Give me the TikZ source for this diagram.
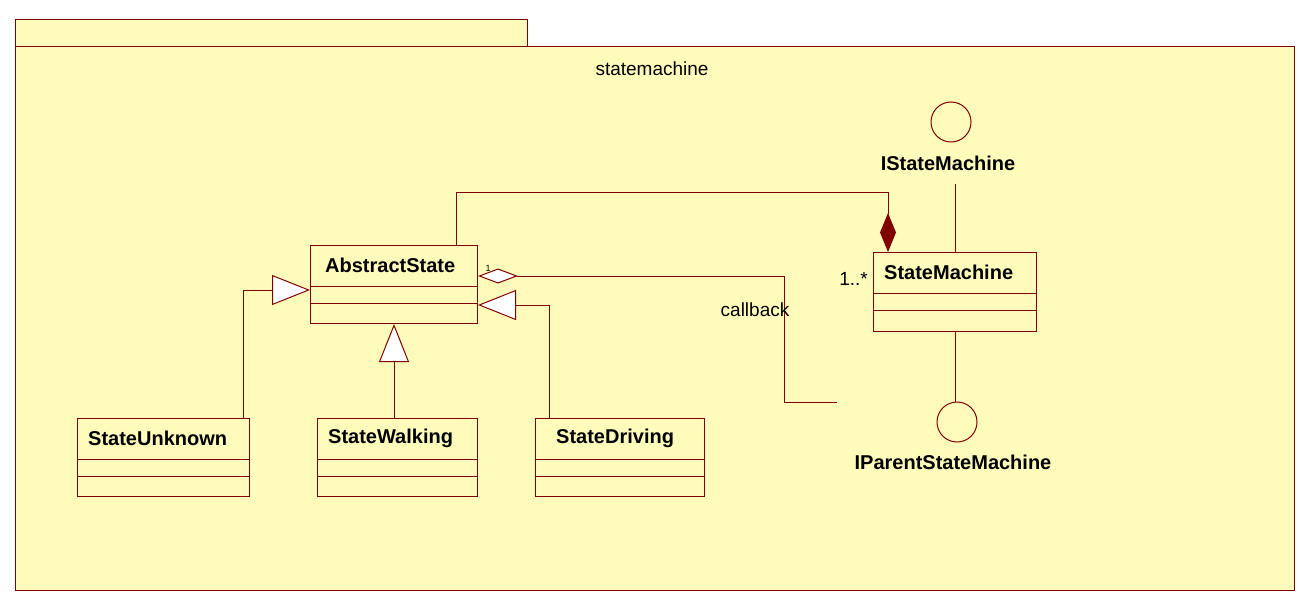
\documentclass[tikz,border=0pt]{standalone}
\usepackage{fontspec}
\setmainfont{Liberation Sans}
\usepackage{tikz}
\usetikzlibrary{arrows.meta,shapes,positioning}
\usepackage{xcolor}
\definecolor{umlyellow}{RGB}{255,252,187}
\definecolor{umlred}{RGB}{128,0,0}
\tikzstyle{umlline} = [draw=umlred, line width=1pt]
\tikzstyle{package} = [rectangle, draw=umlred, fill=umlyellow, line width=1pt, inner sep=0pt, anchor=north west]
\tikzstyle{classbox} = [rectangle, draw=umlred, fill=umlyellow, line width=1pt, inner sep=0pt, minimum height=78pt, anchor=north west]
\tikzstyle{classname} = [font=\fontsize{20}{24}\selectfont\bfseries, anchor=west, inner sep=0pt]
\tikzstyle{iface} = [circle, draw=umlred, line width=1pt, minimum size=40pt, inner sep=0pt]
\tikzstyle{ifacename} = [font=\fontsize{20}{24}\selectfont\bfseries, inner sep=0pt]
\tikzstyle{plain} = [font=\fontsize{19}{23}\selectfont, inner sep=0pt]
\tikzstyle{inherit} = [umlline, -{Triangle[length=38pt, width=30pt, fill=white]}]
\tikzstyle{compose} = [umlline, -{Diamond[length=39pt, width=16pt, fill=umlred]}]
\tikzstyle{aggregate} = [umlline, {Diamond[length=40pt, width=15pt, fill=white]}-]

\begin{document}
\begin{tikzpicture}[x=1pt, y=-1pt]
\useasboundingbox (0,0) rectangle (1306,604);
% Package
\node[package, minimum width=512pt, minimum height=27pt] (tab) at (15,19) {};
\node[package, minimum width=1279pt, minimum height=544pt] (pkg) at (15,46) {};
\node[plain] (pkgname) at (652,69) {statemachine};

% Classes
\node[classbox, minimum width=167pt] (abstract) at (310,245) {};
\node[classbox, minimum width=163pt, minimum height=79pt] (machine) at (873,252) {};
\node[classbox, minimum width=172pt] (unknown) at (77,418) {};
\node[classbox, minimum width=160pt, right=67pt of unknown] (walking) {};
\node[classbox, minimum width=169pt, right=57pt of walking] (driving) {};

\node[classname] at ([xshift=15pt, yshift=-20pt]abstract.north west) {AbstractState};
\node[classname] at ([xshift=11pt, yshift=-20pt]machine.north west) {StateMachine};
\node[classname] at ([xshift=11pt, yshift=-20pt]unknown.north west) {StateUnknown};
\node[classname] at ([xshift=11pt, yshift=-20pt]walking.north west) {StateWalking};
\node[classname] at ([xshift=21pt, yshift=-20pt]driving.north west) {StateDriving};

% Compartments
\foreach \cls in {abstract, machine, unknown, walking, driving} {
  \draw[umlline] ([yshift=-41pt]\cls.north west) -- ([yshift=-41pt]\cls.north east);
  \draw[umlline] ([yshift=-58pt]\cls.north west) -- ([yshift=-58pt]\cls.north east);
}

% Interfaces
\node[iface] (istm) at (951,122) {};
\node[ifacename] (istmname) at (948,163) {IStateMachine};
\node[iface] (iparent) at (957,422) {};
\node[ifacename] (iparentname) at (953,462) {IParentStateMachine};

\draw[umlline] ([yshift=-13pt]istmname.south -| machine.north) -- (machine.north);
\draw[umlline] (machine.south) -- (machine.south |- iparent.north);

% Generalisation
\draw[inherit] ([xshift=-7pt]unknown.north east) |- ([yshift=-45pt]abstract.north west);
\draw[inherit] (walking.north -| abstract.south) -- (abstract.south);
\draw[inherit] ([xshift=14pt]driving.north west) |- ([yshift=-60pt]abstract.north east);

% Composition and callback
\draw[compose] ([xshift=-22pt]abstract.north east) -- ++(0,-52) -| ([xshift=15pt]machine.north west);
\node[plain, anchor=east] (many) at (868,279) {1..*};

\coordinate (cbend) at (837,402);
\draw[aggregate] ([yshift=-31pt]abstract.north east) -- ++(306,0) |- (cbend);
\node[font=\fontsize{9}{10}\selectfont, inner sep=0pt] (one) at (488,268) {1};
\node[plain] (cbname) at (755,310) {callback};
\end{tikzpicture}
\end{document}
